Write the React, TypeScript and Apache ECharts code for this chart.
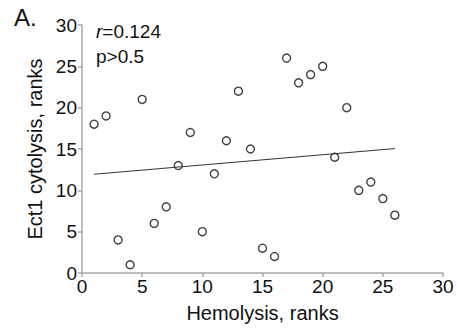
import React, { useEffect, useRef } from "react";
import * as echarts from "echarts";

const hemolysisRanks = [1, 2, 3, 4, 5, 6, 7, 8, 9, 10, 11, 12, 13, 14, 15, 16, 17, 18, 19, 20, 21, 22, 23, 24, 25, 26];
const cytolysisRanks = [18, 19, 4, 1, 21, 6, 8, 13, 17, 5, 12, 16, 22, 15, 3, 2, 26, 23, 24, 25, 14, 20, 10, 11, 9, 7];
const statsText = ["0.124", "p>0.5"];
const panelLabel = "A.";

function fitLine(xs: number[], ys: number[]) {
  const n = xs.length;
  const mx = xs.reduce((a, b) => a + b, 0) / n;
  const my = ys.reduce((a, b) => a + b, 0) / n;
  let sxy = 0, sxx = 0;
  for (let i = 0; i < n; i++) {
    sxy += (xs[i] - mx) * (ys[i] - my);
    sxx += (xs[i] - mx) * (xs[i] - mx);
  }
  const b = sxy / sxx;
  const a = my - b * mx;
  const x0 = Math.min(...xs), x1 = Math.max(...xs);
  return [[x0, a + b * x0], [x1, a + b * x1]];
}

export default function App() {
  const ref = useRef<HTMLDivElement>(null);
  useEffect(() => {
    const chart = echarts.init(ref.current!, null, { renderer: "svg" });
    const font = "Liberation Sans, Arial, sans-serif";
    const axisCommon = {
      min: 0,
      max: 30,
      interval: 5,
      axisLine: { lineStyle: { color: "#a8a8a8", width: 1.5 } },
      axisTick: { show: true, length: 4, lineStyle: { color: "#a8a8a8", width: 1.5 } },
      splitLine: { show: false },
      axisLabel: { color: "#111", fontSize: 19, fontFamily: font },
      nameTextStyle: { color: "#111", fontSize: 20, fontFamily: font },
    };
    chart.setOption({
      animation: false,
      backgroundColor: "#fff",
      grid: { left: 82, right: 14, top: 25, bottom: 54 },
      xAxis: {
        ...axisCommon,
        type: "value",
        name: "Hemolysis, ranks",
        nameLocation: "middle",
        nameGap: 30,
        axisLabel: { ...axisCommon.axisLabel, margin: 4 },
      },
      yAxis: {
        ...axisCommon,
        type: "value",
        name: "Ect1 cytolysis, ranks",
        nameLocation: "middle",
        nameGap: 30,
        axisLabel: { ...axisCommon.axisLabel, margin: 5 },
      },
      series: [
        {
          type: "scatter",
          data: hemolysisRanks.map((x, i) => [x, cytolysisRanks[i]]),
          symbol: "circle",
          symbolSize: 8,
          itemStyle: { color: "#fff", borderColor: "#111", borderWidth: 1.4 },
        },
        {
          type: "line",
          data: fitLine(hemolysisRanks, cytolysisRanks),
          symbol: "none",
          lineStyle: { color: "#333", width: 1 },
        },
      ],
      graphic: [
        {
          type: "text",
          left: 14,
          top: 5,
          style: { text: panelLabel, fontSize: 24, fontFamily: font, fill: "#111" },
        },
        {
          type: "text",
          left: 96,
          top: 19,
          style: {
            text: "{i|r}=" + statsText[0] + "\n" + statsText[1],
            fontSize: 19,
            lineHeight: 25,
            fontFamily: font,
            fill: "#111",
            rich: { i: { fontStyle: "italic", fontSize: 19, fontFamily: font, fill: "#111" } },
          },
        },
      ],
    });
    return () => chart.dispose();
  }, []);
  return <div ref={ref} style={{ width: 457, height: 328, position: "absolute", left: 0, top: 0 }} />;
}
